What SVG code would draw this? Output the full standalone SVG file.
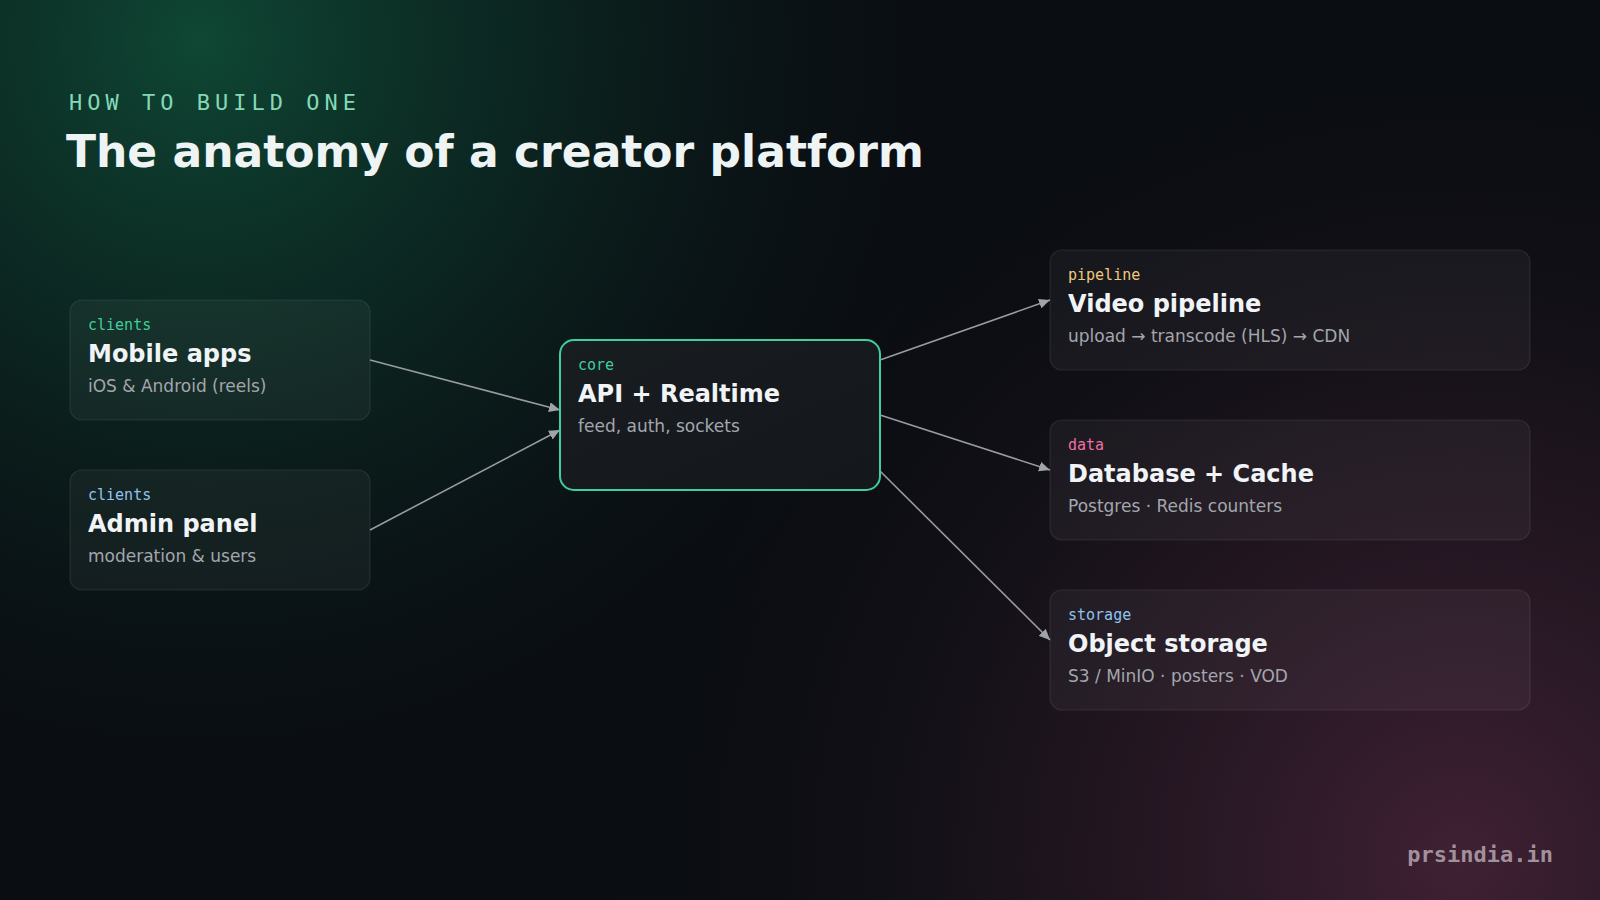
<svg xmlns="http://www.w3.org/2000/svg" width="1600" height="900" viewBox="0 0 1600 900">
  <defs>
    <radialGradient id="gGreen" cx="200" cy="40" r="820" gradientUnits="userSpaceOnUse">
      <stop offset="0" stop-color="#0f4a36" stop-opacity="0.95"/>
      <stop offset="0.45" stop-color="#0c3328" stop-opacity="0.55"/>
      <stop offset="1" stop-color="#0a0d12" stop-opacity="0"/>
    </radialGradient>
    <radialGradient id="gRose" cx="1460" cy="860" r="860" gradientUnits="userSpaceOnUse">
      <stop offset="0" stop-color="#432236" stop-opacity="0.95"/>
      <stop offset="0.5" stop-color="#2b1926" stop-opacity="0.55"/>
      <stop offset="1" stop-color="#0a0d12" stop-opacity="0"/>
    </radialGradient>
    <linearGradient id="gCore" x1="0" y1="0" x2="1" y2="1">
      <stop offset="0" stop-color="#181d20"/>
      <stop offset="1" stop-color="#14171c"/>
    </linearGradient>
    <marker id="arrow" viewBox="0 0 11 10" refX="11" refY="5" markerWidth="11" markerHeight="10" markerUnits="userSpaceOnUse" orient="auto">
      <path d="M0,0 L11,5 L0,10 z" fill="#a0a4aa"/>
    </marker>
    <style>
      .kicker { font-family: "DejaVu Sans Mono", "Liberation Mono", monospace; font-size: 22px; letter-spacing: 5px; fill: #84d8b6; }
      .title { font-family: "DejaVu Sans", "Noto Sans", sans-serif; font-size: 44px; font-weight: bold; fill: #eef3f4; }
      .box { fill: rgba(255,255,255,0.045); stroke: rgba(255,255,255,0.09); stroke-width: 1.2; }
      .core { fill: url(#gCore); stroke: #3fcf9b; stroke-width: 2; }
      .tag { font-family: "DejaVu Sans Mono", "Liberation Mono", monospace; font-size: 15px; }
      .name { font-family: "DejaVu Sans", "Noto Sans", sans-serif; font-size: 24px; font-weight: bold; fill: #f1f4f6; }
      .sub { font-family: "DejaVu Sans", "Noto Sans", sans-serif; font-size: 17px; fill: #a3a6ad; }
      .edge { stroke: #979ba3; stroke-width: 1.6; fill: none; marker-end: url(#arrow); }
      .wm { font-family: "DejaVu Sans Mono", "Liberation Mono", monospace; font-size: 22px; font-weight: bold; fill: #a1919c; }
    </style>
  </defs>

  <rect x="0" y="0" width="1600" height="900" fill="#0a0d12"/>
  <rect x="0" y="0" width="1600" height="900" fill="url(#gGreen)"/>
  <rect x="0" y="0" width="1600" height="900" fill="url(#gRose)"/>

  <text class="kicker" x="69" y="110">HOW TO BUILD ONE</text>
  <text class="title" x="66" y="167">The anatomy of a creator platform</text>

  <g id="connectors">
    <line class="edge" x1="370" y1="360" x2="560" y2="410"/>
    <line class="edge" x1="370" y1="530" x2="560" y2="430"/>
    <line class="edge" x1="880" y1="360" x2="1050" y2="300"/>
    <line class="edge" x1="880" y1="415" x2="1050" y2="470"/>
    <line class="edge" x1="880" y1="471" x2="1050" y2="640"/>
  </g>

  <g id="mobile-apps">
    <rect class="box" x="70" y="300" width="300" height="120" rx="12"/>
    <text class="tag" x="88" y="330" fill="#3ecf9a">clients</text>
    <text class="name" x="88" y="362">Mobile apps</text>
    <text class="sub" x="88" y="392">iOS &amp; Android (reels)</text>
  </g>

  <g id="admin-panel">
    <rect class="box" x="70" y="470" width="300" height="120" rx="12"/>
    <text class="tag" x="88" y="500" fill="#8fc3ef">clients</text>
    <text class="name" x="88" y="532">Admin panel</text>
    <text class="sub" x="88" y="562">moderation &amp; users</text>
  </g>

  <g id="api-realtime">
    <rect class="core" x="560" y="340" width="320" height="150" rx="14"/>
    <text class="tag" x="578" y="370" fill="#3ecf9a">core</text>
    <text class="name" x="578" y="402">API + Realtime</text>
    <text class="sub" x="578" y="432">feed, auth, sockets</text>
  </g>

  <g id="video-pipeline">
    <rect class="box" x="1050" y="250" width="480" height="120" rx="12"/>
    <text class="tag" x="1068" y="280" fill="#f0c77e">pipeline</text>
    <text class="name" x="1068" y="312">Video pipeline</text>
    <text class="sub" x="1068" y="342">upload → transcode (HLS) → CDN</text>
  </g>

  <g id="database-cache">
    <rect class="box" x="1050" y="420" width="480" height="120" rx="12"/>
    <text class="tag" x="1068" y="450" fill="#ee6fa6">data</text>
    <text class="name" x="1068" y="482">Database + Cache</text>
    <text class="sub" x="1068" y="512">Postgres · Redis counters</text>
  </g>

  <g id="object-storage">
    <rect class="box" x="1050" y="590" width="480" height="120" rx="12"/>
    <text class="tag" x="1068" y="620" fill="#8fc3ef">storage</text>
    <text class="name" x="1068" y="652">Object storage</text>
    <text class="sub" x="1068" y="682">S3 / MinIO · posters · VOD</text>
  </g>

  <text class="wm" x="1553" y="862" text-anchor="end">prsindia.in</text>
</svg>
